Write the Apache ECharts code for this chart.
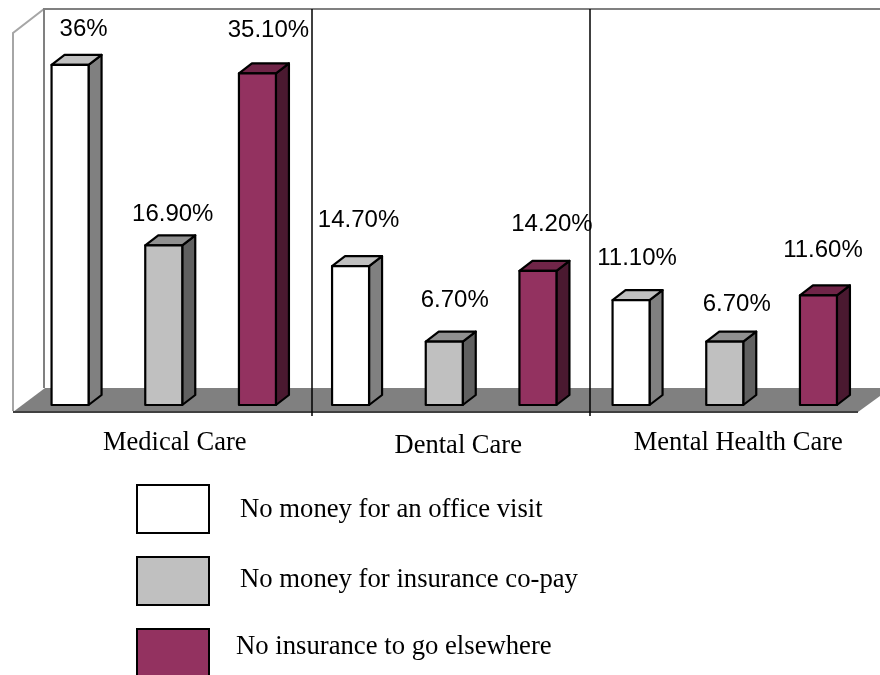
<!DOCTYPE html>
<html>
<head>
<meta charset="utf-8">
<style>html,body{margin:0;padding:0;background:#fff}#c{width:880px;height:675px}</style>
<script src="https://cdn.jsdelivr.net/npm/echarts@6/dist/echarts.min.js"></script>
</head>
<body>
<div id="c"></div>
<script>
const categories = ['Medical Care', 'Dental Care', 'Mental Health Care'];
const officeVisit = [36, 14.7, 11.1];
const insuranceCopay = [16.9, 6.7, 6.7];
const noInsurance = [35.1, 14.2, 11.6];
const officeVisitText = ['36%', '14.70%', '11.10%'];
const insuranceCopayText = ['16.90%', '6.70%', '6.70%'];
const noInsuranceText = ['35.10%', '14.20%', '11.60%'];
const seriesNames = ['No money for an office visit', 'No money for insurance co-pay', 'No insurance to go elsewhere'];

// layout nudges for the hand-placed data labels [dx from bar centre, dy from bar top]
const officeVisitNudge = [[13.5, -36], [8, -46], [6, -42]];
const insuranceCopayNudge = [[9, -31], [10.5, -41], [12, -37]];
const noInsuranceNudge = [[11, -43], [14, -46], [4.5, -45]];

const palettes = [
  { front: '#ffffff', side: '#808080', top: '#c0c0c0' },
  { front: '#c0c0c0', side: '#606060', top: '#909090' },
  { front: '#933260', side: '#4a1930', top: '#702548' }
];
const BAR_W = 37, STEP = 0.334, DX = 13, DY = -10;

function makeRender(si, texts, nudges) {
  return function (params, api) {
    const c = api.value(0), v = api.value(1);
    const base = api.coord([c, 0]);
    const top = api.coord([c, v]);
    const cx = base[0] + (si - 1) * STEP * api.size([1, 0])[0];
    const l = cx - BAR_W / 2, r = cx + BAR_W / 2, y0 = base[1], y1 = top[1];
    const pal = palettes[si];
    const line = { stroke: '#000', lineWidth: 2.2, lineJoin: 'round' };
    const n = nudges[c];
    return {
      type: 'group',
      children: [
        { type: 'polygon', shape: { points: [[r, y0], [r + DX, y0 + DY], [r + DX, y1 + DY], [r, y1]] },
          style: Object.assign({ fill: pal.side }, line) },
        { type: 'polygon', shape: { points: [[l, y1], [l + DX, y1 + DY], [r + DX, y1 + DY], [r, y1]] },
          style: Object.assign({ fill: pal.top }, line) },
        { type: 'rect', shape: { x: l, y: y1, width: BAR_W, height: y0 - y1 },
          style: Object.assign({ fill: pal.front }, line) },
        { type: 'text', style: { text: texts[c], x: cx + n[0], y: y1 + n[1], align: 'center', verticalAlign: 'middle',
          fill: '#000', font: '24px "Liberation Sans", Arial, sans-serif' } }
      ]
    };
  };
}

function seriesFor(si, values, texts, nudges) {
  return {
    type: 'custom',
    name: seriesNames[si],
    renderItem: makeRender(si, texts, nudges),
    encode: { x: 0, y: 1 },
    itemStyle: { color: palettes[si].front, borderColor: '#000', borderWidth: 2.2 },
    data: values.map((v, i) => [i, v]),
    silent: true,
    animation: false
  };
}

const serif = '"Liberation Serif", "Times New Roman", serif';
function legendFor(si, top, padding) {
  return {
    orient: 'vertical', left: 136, top: top, padding: 0, itemWidth: 72, itemHeight: 48,
    icon: 'rect', selectedMode: false,
    formatter: '{t|{name}}',
    textStyle: {
      rich: { t: { fontFamily: serif, fontSize: 26.7, color: '#000', padding: padding } }
    },
    data: [seriesNames[si]]
  };
}

const chart = echarts.init(document.getElementById('c'), null, { renderer: 'canvas' });
chart.setOption({
  animation: false,
  backgroundColor: '#fff',
  grid: { left: 23.5, top: 46, width: 841.5, height: 359, containLabel: false },
  xAxis: {
    type: 'category',
    data: [
      { value: categories[0], textStyle: { padding: [0, 0, 0, 22] } },
      { value: categories[1], textStyle: { padding: [3, 0, 0, 28] } },
      { value: categories[2], textStyle: { padding: [0, 0, 0, 27] } }
    ],
    axisLine: { show: false }, axisTick: { show: false }, splitLine: { show: false },
    axisLabel: { margin: 25, color: '#000', fontFamily: serif, fontSize: 26.5, interval: 0 }
  },
  yAxis: { type: 'value', min: 0, max: 38, show: false },
  legend: [
    legendFor(0, 484, [2, 0, 0, 26]),
    legendFor(1, 556, [0, 0, 2, 26]),
    legendFor(2, 628, [0, 0, 12, 22])
  ],
  graphic: [
    { type: 'polygon', z: 0, shape: { points: [[13, 412], [45, 388], [891, 388], [858, 412]] }, style: { fill: '#808080' } },
    { type: 'polyline', z: 0, shape: { points: [[13, 412], [858, 412]] }, style: { stroke: '#404040', lineWidth: 2, fill: null } },
    { type: 'polyline', z: 0, shape: { points: [[13, 411], [13, 33], [44, 9]] }, style: { stroke: '#a6a6a6', lineWidth: 2, fill: null } },
    { type: 'polyline', z: 0, shape: { points: [[44, 388], [44, 9], [880, 9]] }, style: { stroke: '#808080', lineWidth: 2, fill: null } },
    { type: 'line', z: 1, shape: { x1: 312, y1: 9, x2: 312, y2: 416 }, style: { stroke: '#000', lineWidth: 1.5 } },
    { type: 'line', z: 1, shape: { x1: 590, y1: 9, x2: 590, y2: 416 }, style: { stroke: '#000', lineWidth: 1.5 } }
  ],
  series: [
    seriesFor(0, officeVisit, officeVisitText, officeVisitNudge),
    seriesFor(1, insuranceCopay, insuranceCopayText, insuranceCopayNudge),
    seriesFor(2, noInsurance, noInsuranceText, noInsuranceNudge)
  ]
});
</script>
</body>
</html>
